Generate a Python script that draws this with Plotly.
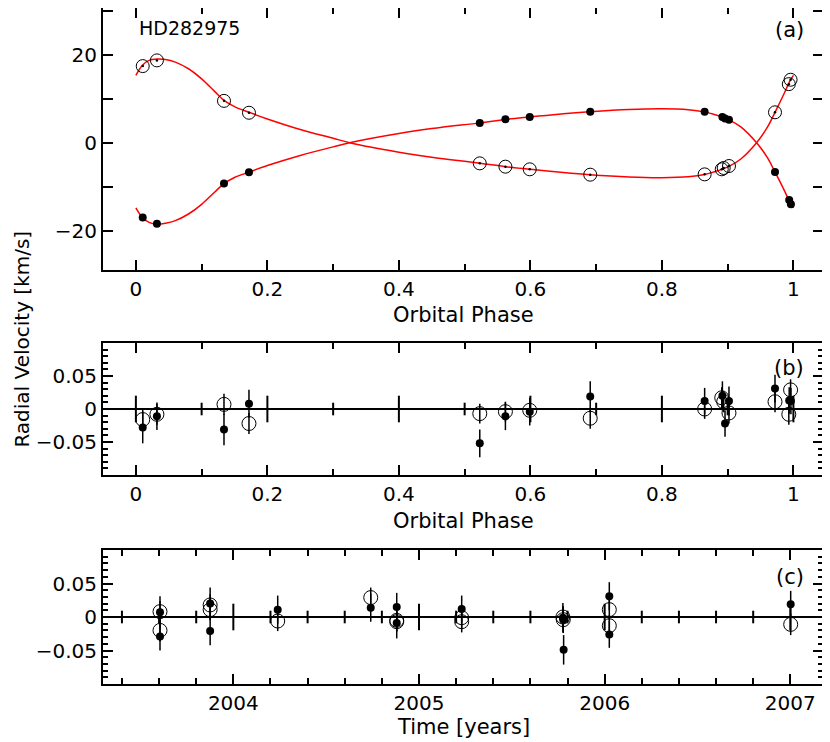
import plotly.graph_objects as go

# ---- panel (a): radial velocities vs orbital phase ----
phase_p = [0.0104, 0.032, 0.134, 0.172, 0.523, 0.562, 0.599, 0.691, 0.865,
           0.892, 0.896, 0.902, 0.972, 0.9936, 0.9962]
rv_p = [-17.0, -18.4, -9.3, -6.7, 4.5, 5.3, 5.85, 7.05, 7.0,
        5.85, 5.5, 5.2, -6.65, -13.0, -14.0]

phase_s = [0.0104, 0.032, 0.134, 0.172, 0.523, 0.562, 0.599, 0.691, 0.865,
           0.891, 0.894, 0.902, 0.972, 0.993, 0.9957]
rv_s = [17.4, 18.7, 9.5, 6.8, -4.7, -5.45, -6.05, -7.27, -7.2,
        -6.05, -5.75, -5.3, 6.9, 13.3, 14.3]

# orbit model curves
phase_m = [0.0, 0.01, 0.02, 0.032, 0.045, 0.06, 0.08, 0.10, 0.12, 0.134,
           0.15, 0.172, 0.20, 0.25, 0.30, 0.325, 0.40, 0.45, 0.523, 0.562,
           0.60, 0.65, 0.69, 0.75, 0.80, 0.84, 0.865, 0.88, 0.892, 0.902,
           0.92, 0.944, 0.96, 0.972, 0.985, 0.995, 1.0]
rv1_m = [-14.8, -17.0, -18.1, -18.5, -18.3, -17.7, -16.2, -14.0, -11.2, -9.3,
         -7.9, -6.7, -5.2, -2.9, -0.95, 0.0, 2.1, 3.2, 4.5, 5.25,
         5.85, 6.6, 7.05, 7.55, 7.7, 7.5, 7.0, 6.4, 5.8, 5.2,
         3.6, 0.0, -3.3, -6.65, -10.5, -13.6, -14.8]
rv2_m = [15.3, 17.6, 18.7, 19.0, 18.9, 18.3, 16.8, 14.5, 11.6, 9.6,
         8.2, 6.9, 5.4, 3.0, 1.0, 0.0, -2.15, -3.3, -4.65, -5.45,
         -6.05, -6.8, -7.3, -7.8, -7.95, -7.75, -7.25, -6.6, -6.0, -5.4,
         -3.7, 0.0, 3.4, 6.9, 10.9, 14.1, 15.3]

# ---- panel (b): residuals vs phase [km/s] ----
res_p = [-0.028, -0.011, -0.031, 0.008, -0.052, -0.011, -0.004, 0.019, 0.012,
         0.020, -0.022, 0.012, 0.031, 0.013, 0.012]
err_p = [0.024, 0.021, 0.024, 0.021, 0.021, 0.021, 0.021, 0.023, 0.02,
         0.022, 0.02, 0.022, 0.021, 0.02, 0.02]
res_s = [-0.016, -0.008, 0.007, -0.022, -0.007, -0.004, -0.002, -0.014, 0.0,
         0.017, 0.011, -0.006, 0.011, -0.008, 0.029]
err_s = [0.016, 0.016, 0.016, 0.016, 0.015, 0.015, 0.015, 0.016, 0.015,
         0.016, 0.016, 0.016, 0.016, 0.016, 0.016]

# ---- panel (c): residuals vs time ----
time_p = [2003.605, 2003.605, 2003.875, 2003.875, 2004.239, 2004.740, 2004.880,
          2004.880, 2005.230, 2005.775, 2005.777, 2005.779, 2006.025, 2006.025,
          2007.002]
tres_p = [0.007, -0.029, 0.020, -0.021, 0.011, 0.014, 0.015, -0.009, 0.012,
          -0.001, -0.004, -0.049, 0.031, -0.026, 0.019]
time_s = [2003.605, 2003.605, 2003.875, 2003.875, 2004.239, 2004.740, 2004.880,
          2004.880, 2005.230, 2005.230, 2005.775, 2005.777, 2006.025, 2006.025,
          2007.002]
tres_s = [0.008, -0.020, 0.018, 0.011, -0.006, 0.029, -0.007, -0.005, -0.001,
          -0.007, 0.0, -0.004, 0.011, -0.013, -0.011]

# tick positions along the zero lines of (b) and (c)
phase_major = [0.0, 0.2, 0.4, 0.6, 0.8, 1.0]
phase_minor = [0.1, 0.3, 0.5, 0.7, 0.9]
year_major = [2004, 2005, 2006, 2007]
year_minor = [2003.4, 2003.6, 2003.8, 2004.2, 2004.4, 2004.6, 2004.8,
              2005.2, 2005.4, 2005.6, 2005.8, 2006.2, 2006.4, 2006.6, 2006.8]

FONT = "DejaVu Sans"
black = "black"
phase_rng = [-0.05, 1.045]
time_rng = [2003.298, 2007.176]

fig = go.Figure()

# (a)
for rv_m in (rv1_m, rv2_m):
    fig.add_trace(go.Scatter(x=phase_m, y=rv_m, mode="lines", line_shape="spline",
                             line=dict(color="red", width=1.5), xaxis="x", yaxis="y"))
fig.add_trace(go.Scatter(x=phase_s, y=rv_s, mode="markers",
                         marker=dict(symbol="circle-open", size=13, color=black,
                                     line=dict(width=1)),
                         xaxis="x", yaxis="y"))
fig.add_trace(go.Scatter(x=phase_s, y=rv_s, mode="markers",
                         marker=dict(size=2.5, color=black),
                         xaxis="x", yaxis="y"))
fig.add_trace(go.Scatter(x=phase_p, y=rv_p, mode="markers",
                         marker=dict(size=8, color=black),
                         xaxis="x", yaxis="y"))

# zero-line ticks for (b) and (c)
for xs, size, xa, ya in ((phase_major, 19, "x2", "y2"), (phase_minor, 9, "x2", "y2"),
                         (year_major, 19, "x3", "y3"), (year_minor, 9, "x3", "y3")):
    fig.add_trace(go.Scatter(x=xs, y=[0] * len(xs), mode="markers", hoverinfo="skip",
                             marker=dict(symbol="line-ns", size=size,
                                         line=dict(color=black, width=2)),
                             xaxis=xa, yaxis=ya))

# (b) and (c): open first, filled on top
for xs, ys, ts, tys, xa, ya in ((phase_s, res_s, phase_p, res_p, "x2", "y2"),
                                (time_s, tres_s, time_p, tres_p, "x3", "y3")):
    fig.add_trace(go.Scatter(x=xs, y=ys, mode="markers",
                             error_y=dict(array=err_s, color=black, thickness=1.5, width=0),
                             marker=dict(symbol="circle-open", size=14, color=black,
                                         line=dict(width=1)),
                             xaxis=xa, yaxis=ya))
    fig.add_trace(go.Scatter(x=ts, y=tys, mode="markers",
                             error_y=dict(array=err_p, color=black, thickness=1.5, width=0),
                             marker=dict(size=8, color=black),
                             xaxis=xa, yaxis=ya))

frame = dict(showline=True, linewidth=2, linecolor=black, mirror="allticks",
             ticks="inside", tickcolor=black, tickwidth=2, showgrid=False,
             zeroline=False, automargin=False,
             tickfont=dict(family=FONT, size=20, color=black))

phase_ax = dict(frame, range=phase_rng, tick0=0, dtick=0.2, ticklen=10,
                minor=dict(dtick=0.1, tick0=0, ticks="inside", ticklen=6,
                           tickwidth=2, tickcolor=black),
                ticklabelstandoff=0)
res_ax = dict(frame, range=[-0.1, 0.1], ticklen=10,
              tickvals=[-0.05, 0, 0.05], ticktext=["−0.05", "0", "0.05"],
              zeroline=True, zerolinecolor=black, zerolinewidth=2,
              minor=dict(dtick=0.01, tick0=0, ticks="inside", ticklen=5,
                         tickwidth=1.5, tickcolor=black))
time_ax = dict(frame, range=time_rng, tick0=2004, dtick=1, ticklen=10,
               minor=dict(dtick=0.2, tick0=2004, ticks="inside", ticklen=6,
                          tickwidth=2, tickcolor=black),
               ticklabelstandoff=0)

# the page puts the plot 8px in from the top-left corner
fig.update_layout(
    width=822, height=734,
    margin=dict(l=95, r=7, t=0, b=58, autoexpand=False),
    paper_bgcolor="white", plot_bgcolor="white",
    showlegend=False,
    font=dict(family=FONT, size=20, color=black),
    xaxis=dict(phase_ax, domain=[0, 1], anchor="y"),
    yaxis=dict(frame, domain=[0.6124, 1.0], anchor="x", range=[-28.93, 30.6],
               ticklen=10, tickvals=[-20, 0, 20], ticktext=["−20", "0", "20"],
               minor=dict(dtick=10, tick0=0, ticks="inside", ticklen=10,
                          tickwidth=2, tickcolor=black)),
    xaxis2=dict(phase_ax, domain=[0, 1], anchor="y2"),
    yaxis2=dict(res_ax, domain=[0.3092, 0.5044], anchor="x2"),
    xaxis3=dict(time_ax, domain=[0, 1], anchor="y3"),
    yaxis3=dict(res_ax, domain=[0, 0.1982], anchor="x3"),
)

ann = [
    dict(text="HD282975", x=0.047, y=0.970, xanchor="left", size=19),
    dict(text="(a)", x=0.954, y=0.967, xanchor="center", size=21),
    dict(text="(b)", x=0.953, y=0.467, xanchor="center", size=21),
    dict(text="(c)", x=0.954, y=0.158, xanchor="center", size=21),
    dict(text="Orbital Phase", x=0.5, y=0.546, xanchor="center", size=21),
    dict(text="Orbital Phase", x=0.5, y=0.241, xanchor="center", size=21),
    dict(text="Time [years]", x=0.5, y=-0.0636, xanchor="center", size=21),
]
for a in ann:
    fig.add_annotation(text=a["text"], x=a["x"], y=a["y"], xref="paper", yref="paper",
                       xanchor=a["xanchor"], yanchor="middle", showarrow=False,
                       font=dict(family=FONT, size=a["size"], color=black))
fig.add_annotation(text="Radial Velocity [km/s]", x=-0.112, y=0.510,
                   xref="paper", yref="paper", textangle=-90, showarrow=False,
                   xanchor="center", yanchor="middle",
                   font=dict(family=FONT, size=20, color=black))

fig.write_html("out.html")
